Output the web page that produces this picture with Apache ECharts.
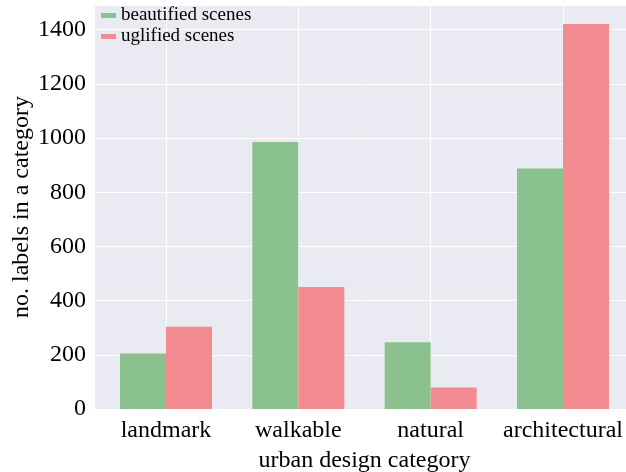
<!DOCTYPE html>
<html>
<head>
<meta charset="utf-8">
<script src="https://cdn.jsdelivr.net/npm/echarts@6/dist/echarts.min.js"></script>
<style>
    html, body { margin: 0; padding: 0; background: #fff; }
    #chart { width: 626px; height: 472px; }
</style>
</head>
<body>
<div id="chart"></div>
<script>
var categories = ['landmark', 'walkable', 'natural', 'architectural'];
var beautified = [205, 985, 246, 888];
var uglified = [304, 450, 79, 1421];
var seriesNames = ['beautified scenes', 'uglified scenes'];

var serif = "'Liberation Serif', 'Times New Roman', serif";

var chart = echarts.init(document.getElementById('chart'));

var option = {
    animation: false,
    legend: {
        orient: 'vertical',
        left: 101,
        top: 6,
        padding: 0,
        itemWidth: 15,
        itemHeight: 5,
        itemGap: 2,
        icon: 'rect',
        data: seriesNames,
        textStyle: { fontFamily: serif, fontSize: 19, color: '#000' }
    },
    grid: [{
        // full background area, carries the y axis
        left: 95, right: 0, top: 5, bottom: 63,
        show: true,
        backgroundColor: '#EAEAF2',
        borderWidth: 0,
        outerBoundsMode: 'none'
    }, {
        // category centres, carries the bars
        left: 166, right: 63, top: 5, bottom: 63,
        outerBoundsMode: 'none'
    }],
    xAxis: [{
        gridIndex: 0,
        type: 'value',
        show: false
    }, {
        gridIndex: 1,
        type: 'category',
        boundaryGap: false,
        data: categories,
        axisLine: { show: false },
        axisTick: { show: false },
        axisLabel: { interval: 0, fontFamily: serif, fontSize: 24, color: '#000', margin: 10 },
        splitLine: { show: true, interval: 0, lineStyle: { color: '#fff', width: 1 } },
        name: 'urban design category',
        nameLocation: 'middle',
        nameGap: 40,
        nameMoveOverlap: false,
        nameTextStyle: { fontFamily: serif, fontSize: 24, color: '#000' }
    }],
    yAxis: [{
        gridIndex: 0,
        type: 'value',
        min: 0,
        max: 1491,
        interval: 200,
        axisLine: { show: false },
        axisTick: { show: false },
        axisLabel: {
            fontFamily: serif, fontSize: 24, color: '#000', margin: 9, showMaxLabel: false,
            formatter: function (v) { return String(v); }
        },
        splitLine: { show: true, lineStyle: { color: '#fff', width: 1 } },
        name: 'no. labels in a category',
        nameLocation: 'middle',
        nameGap: 61,
        nameMoveOverlap: false,
        nameTextStyle: { fontFamily: serif, fontSize: 24, color: '#000' }
    }, {
        gridIndex: 1,
        type: 'value',
        min: 0,
        max: 1491,
        show: false
    }],
    series: [{
        name: seriesNames[0],
        type: 'bar',
        xAxisIndex: 1,
        yAxisIndex: 1,
        data: beautified,
        barWidth: 46,
        barGap: '0%',
        clip: false,
        itemStyle: { color: '#8BC08F' }
    }, {
        name: seriesNames[1],
        type: 'bar',
        xAxisIndex: 1,
        yAxisIndex: 1,
        data: uglified,
        barWidth: 46,
        barGap: '0%',
        clip: false,
        itemStyle: { color: '#F28B8F' }
    }]
};

chart.setOption(option);
</script>
</body>
</html>
